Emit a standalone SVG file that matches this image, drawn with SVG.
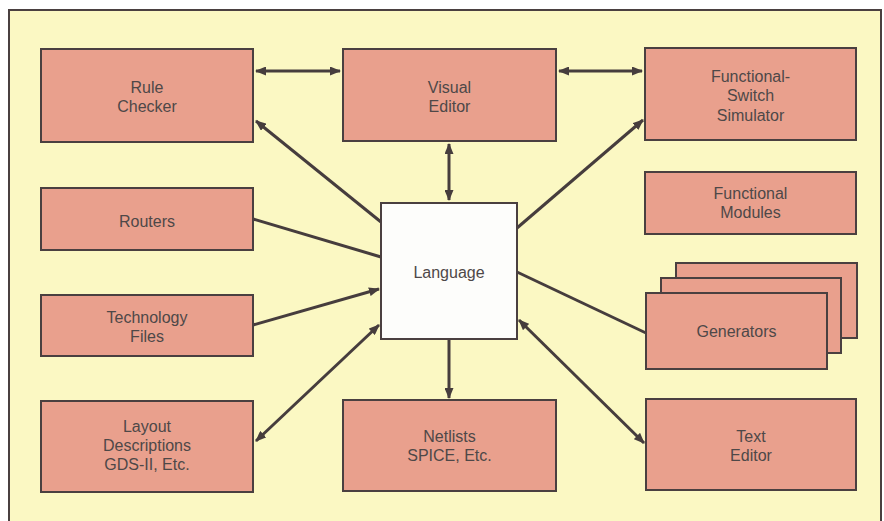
<svg xmlns="http://www.w3.org/2000/svg" width="884" height="521" viewBox="0 0 884 521">
<style>
.box{fill:#e9a08d;stroke:#4a4040;stroke-width:2}
.lang{fill:#fdfdfb;stroke:#4a4040;stroke-width:2}
.t{font-family:"Liberation Sans",Arial,sans-serif;font-size:16px;fill:#4e4848;text-anchor:middle}
.c{stroke:#463d3d;stroke-width:3;fill:none}
</style>
<defs>
<marker id="ah" viewBox="0 0 11 9" refX="10" refY="4.5" markerWidth="11" markerHeight="9" markerUnits="userSpaceOnUse" orient="auto-start-reverse">
<path d="M0,0 L11,4.5 L0,9 z" fill="#463d3d"/>
</marker>
</defs>
<rect x="0" y="0" width="884" height="521" fill="#ffffff"/>
<rect id="frame" x="9" y="10" width="872" height="530" fill="#fbf8c3" stroke="#4a4040" stroke-width="2"/>
<g id="connectors">
<line class="c" x1="256" y1="71" x2="340" y2="71" marker-start="url(#ah)" marker-end="url(#ah)"/>
<line class="c" x1="559" y1="71" x2="642" y2="71" marker-start="url(#ah)" marker-end="url(#ah)"/>
<line class="c" x1="449" y1="144" x2="449" y2="200" marker-start="url(#ah)" marker-end="url(#ah)"/>
<line class="c" x1="381" y1="222" x2="256" y2="121" marker-end="url(#ah)"/>
<line class="c" x1="253" y1="219" x2="381" y2="257"/>
<line class="c" x1="253" y1="325" x2="379" y2="289" marker-end="url(#ah)"/>
<line class="c" x1="256" y1="441" x2="379" y2="325" marker-start="url(#ah)" marker-end="url(#ah)"/>
<line class="c" x1="449" y1="340" x2="449" y2="398" marker-end="url(#ah)"/>
<line class="c" x1="517" y1="228" x2="643" y2="120" marker-end="url(#ah)"/>
<line class="c" x1="517" y1="272" x2="646" y2="333"/>
<line class="c" x1="519" y1="320" x2="644" y2="443" marker-start="url(#ah)" marker-end="url(#ah)"/>
</g>
<g id="rule-checker">
<rect class="box" x="41" y="49" width="212" height="93"/>
<text class="t" x="147" y="93">Rule</text>
<text class="t" x="147" y="112">Checker</text>
</g>
<g id="visual-editor">
<rect class="box" x="343" y="49" width="213" height="92"/>
<text class="t" x="449.5" y="93">Visual</text>
<text class="t" x="449.5" y="112">Editor</text>
</g>
<g id="functional-switch-simulator">
<rect class="box" x="645" y="48" width="211" height="92"/>
<text class="t" x="750.5" y="82">Functional-</text>
<text class="t" x="750.5" y="101">Switch</text>
<text class="t" x="750.5" y="121">Simulator</text>
</g>
<g id="functional-modules">
<rect class="box" x="645" y="172" width="211" height="62"/>
<text class="t" x="750.5" y="199">Functional</text>
<text class="t" x="750.5" y="218">Modules</text>
</g>
<g id="routers">
<rect class="box" x="41" y="188" width="212" height="62"/>
<text class="t" x="147" y="227">Routers</text>
</g>
<g id="language">
<rect class="lang" x="381" y="203" width="136" height="136"/>
<text class="t" x="449" y="278">Language</text>
</g>
<g id="technology-files">
<rect class="box" x="41" y="295" width="212" height="61"/>
<text class="t" x="147" y="323">Technology</text>
<text class="t" x="147" y="342">Files</text>
</g>
<g id="layout-descriptions">
<rect class="box" x="41" y="401" width="212" height="91"/>
<text class="t" x="147" y="432">Layout</text>
<text class="t" x="147" y="451">Descriptions</text>
<text class="t" x="147" y="470">GDS-II, Etc.</text>
</g>
<g id="netlists">
<rect class="box" x="343" y="400" width="213" height="91"/>
<text class="t" x="449.5" y="442">Netlists</text>
<text class="t" x="449.5" y="461">SPICE, Etc.</text>
</g>
<g id="generators">
<rect class="box" x="676" y="263" width="181" height="75"/>
<rect class="box" x="661" y="278" width="180" height="75"/>
<rect class="box" x="646" y="293" width="181" height="76"/>
<text class="t" x="736.5" y="337">Generators</text>
</g>
<g id="text-editor">
<rect class="box" x="646" y="399" width="210" height="91"/>
<text class="t" x="751" y="442">Text</text>
<text class="t" x="751" y="461">Editor</text>
</g>
</svg>
